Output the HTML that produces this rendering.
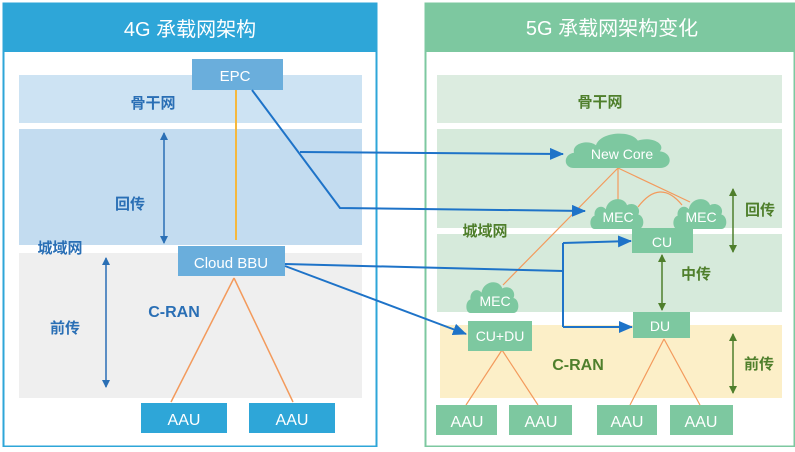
<!DOCTYPE html>
<html><head><meta charset="utf-8"><style>
body{margin:0;width:795px;height:447px;background:#fff;overflow:hidden;font-family:"Liberation Sans","Noto Sans CJK SC",sans-serif}
svg text{font-family:"Liberation Sans","Noto Sans CJK SC",sans-serif}
</style></head><body>
<svg width="795" height="447" viewBox="0 0 795 447" xmlns="http://www.w3.org/2000/svg">
<defs>
<marker id="bl" markerWidth="14" markerHeight="12" refX="13" refY="6" orient="auto" markerUnits="userSpaceOnUse"><path d="M0,0L14,6L0,12z" fill="#1e73c8"/></marker>
<marker id="da" markerWidth="8" markerHeight="8" refX="7" refY="4" orient="auto-start-reverse" markerUnits="userSpaceOnUse"><path d="M0,0L8,4L0,8z" fill="#2a6fb5"/></marker>
<marker id="ga" markerWidth="8" markerHeight="8" refX="7" refY="4" orient="auto-start-reverse" markerUnits="userSpaceOnUse"><path d="M0,0L8,4L0,8z" fill="#4f7f2c"/></marker>
<symbol id="cloud" viewBox="0 0 100 50" preserveAspectRatio="none"><path d="M10,50 C0,50 0,32 10,30 C8,18 22,12 30,20 C34,2 62,0 68,14 C80,8 94,18 88,28 C100,30 100,50 88,50 Z" fill="#7dc8a0"/></symbol>
</defs>
<!-- left panel -->
<rect x="3.5" y="3.5" width="373" height="443" fill="#fff" stroke="#2ea6d8" stroke-width="2"/>
<rect x="3" y="3" width="374" height="49" fill="#2ea6d8"/>
<text x="190" y="36" font-size="20" fill="#fff" text-anchor="middle">4G 承载网架构</text>
<rect x="19" y="75" width="343" height="48" fill="#cde3f3"/>
<rect x="19" y="129" width="343" height="116" fill="#c3dcf0"/>
<rect x="19" y="253" width="343" height="145" fill="#efefef"/>
<g font-weight="bold" fill="#2a6fb5" text-anchor="middle">
<text x="153" y="108" font-size="15">骨干网</text>
<text x="130" y="209" font-size="15">回传</text>
<text x="60" y="253" font-size="15">城域网</text>
<text x="65" y="333" font-size="15">前传</text>
<text x="174" y="317" font-size="16">C-RAN</text>
</g>
<line x1="164" y1="133" x2="164" y2="243" stroke="#2a6fb5" stroke-width="1.5" marker-start="url(#da)" marker-end="url(#da)"/>
<line x1="106" y1="258" x2="106" y2="387" stroke="#2a6fb5" stroke-width="1.5" marker-start="url(#da)" marker-end="url(#da)"/>
<line x1="236" y1="90" x2="236" y2="240" stroke="#f5b83d" stroke-width="2"/>
<line x1="234" y1="278" x2="171" y2="402" stroke="#f39a5c" stroke-width="1.5"/>
<line x1="234" y1="278" x2="293" y2="402" stroke="#f39a5c" stroke-width="1.5"/>
<rect x="192" y="59" width="91" height="31" fill="#6aaedc"/>
<text x="235" y="81" font-size="15" fill="#fff" text-anchor="middle">EPC</text>
<rect x="178" y="246" width="107" height="30" fill="#6aaedc"/>
<text x="231" y="268" font-size="15" fill="#fff" text-anchor="middle">Cloud BBU</text>
<rect x="141" y="403" width="86" height="30" fill="#2ea6d8"/>
<text x="184" y="425" font-size="16" fill="#fff" text-anchor="middle">AAU</text>
<rect x="249" y="403" width="86" height="30" fill="#2ea6d8"/>
<text x="292" y="425" font-size="16" fill="#fff" text-anchor="middle">AAU</text>
<!-- right panel -->
<rect x="425.5" y="3.5" width="369" height="443" fill="#fff" stroke="#7dc8a0" stroke-width="2"/>
<rect x="425" y="3" width="370" height="49" fill="#7dc8a0"/>
<text x="612" y="35" font-size="20" fill="#fff" text-anchor="middle">5G 承载网架构变化</text>
<rect x="437" y="75" width="345" height="48" fill="#dcece0"/>
<rect x="437" y="129" width="345" height="99" fill="#d6eadb"/>
<rect x="437" y="234" width="345" height="78" fill="#d6eadb"/>
<rect x="440" y="325" width="342" height="73" fill="#fcefc8"/>
<g font-weight="bold" fill="#4f7f2c" text-anchor="middle">
<text x="600" y="107" font-size="15">骨干网</text>
<text x="485" y="236" font-size="15">城域网</text>
<text x="760" y="215" font-size="15">回传</text>
<text x="696" y="279" font-size="15">中传</text>
<text x="759" y="369" font-size="15">前传</text>
<text x="578" y="370" font-size="16">C-RAN</text>
</g>
<line x1="733" y1="189" x2="733" y2="252" stroke="#4f7f2c" stroke-width="1.5" marker-start="url(#ga)" marker-end="url(#ga)"/>
<line x1="662" y1="255" x2="662" y2="310" stroke="#4f7f2c" stroke-width="1.5" marker-start="url(#ga)" marker-end="url(#ga)"/>
<line x1="733" y1="334" x2="733" y2="393" stroke="#4f7f2c" stroke-width="1.5" marker-start="url(#ga)" marker-end="url(#ga)"/>
<g stroke="#f39a5c" stroke-width="1.2" fill="none">
<line x1="618" y1="168" x2="503" y2="285"/>
<line x1="618" y1="168" x2="618" y2="200"/>
<line x1="618" y1="168" x2="690" y2="202"/>
<path d="M638,207 Q660,178 682,205"/>
<line x1="502" y1="350" x2="466" y2="405"/>
<line x1="502" y1="350" x2="538" y2="405"/>
<line x1="664" y1="339" x2="630" y2="405"/>
<line x1="664" y1="339" x2="700" y2="405"/>
</g>
<use href="#cloud" x="563" y="130" width="110" height="38"/>
<text x="622" y="159" font-size="14" fill="#fff" text-anchor="middle">New Core</text>
<use href="#cloud" x="589" y="196" width="56" height="33"/>
<text x="618" y="222" font-size="14" fill="#fff" text-anchor="middle">MEC</text>
<use href="#cloud" x="672" y="196" width="56" height="33"/>
<text x="701" y="222" font-size="14" fill="#fff" text-anchor="middle">MEC</text>
<use href="#cloud" x="465" y="279" width="55" height="34"/>
<text x="495" y="306" font-size="14" fill="#fff" text-anchor="middle">MEC</text>
<rect x="632" y="228" width="61" height="25" fill="#7dc8a0"/>
<text x="662" y="247" font-size="14" fill="#fff" text-anchor="middle">CU</text>
<rect x="633" y="312" width="57" height="26" fill="#7dc8a0"/>
<text x="660" y="331" font-size="14" fill="#fff" text-anchor="middle">DU</text>
<rect x="468" y="321" width="64" height="30" fill="#7dc8a0"/>
<text x="500" y="341" font-size="14" fill="#fff" text-anchor="middle">CU+DU</text>
<g fill="#7dc8a0"><rect x="436" y="405" width="61" height="30"/><rect x="509" y="405" width="63" height="30"/><rect x="597" y="405" width="60" height="30"/><rect x="670" y="405" width="63" height="30"/></g>
<g font-size="16" fill="#fff" text-anchor="middle"><text x="467" y="427">AAU</text><text x="541" y="427">AAU</text><text x="627" y="427">AAU</text><text x="701" y="427">AAU</text></g>
<!-- blue connectors -->
<g stroke="#1e73c8" stroke-width="2" fill="none">
<polyline points="252,90 340,208 585,211" marker-end="url(#bl)"/>
<line x1="300" y1="152" x2="563" y2="154" marker-end="url(#bl)"/>
<polyline points="285,264 563,271"/>
<polyline points="563,243 563,327"/>
<line x1="563" y1="243" x2="631" y2="241" marker-end="url(#bl)"/>
<line x1="563" y1="327" x2="632" y2="327" marker-end="url(#bl)"/>
<line x1="285" y1="266" x2="466" y2="334" marker-end="url(#bl)"/>
</g>
</svg>
</body></html>
